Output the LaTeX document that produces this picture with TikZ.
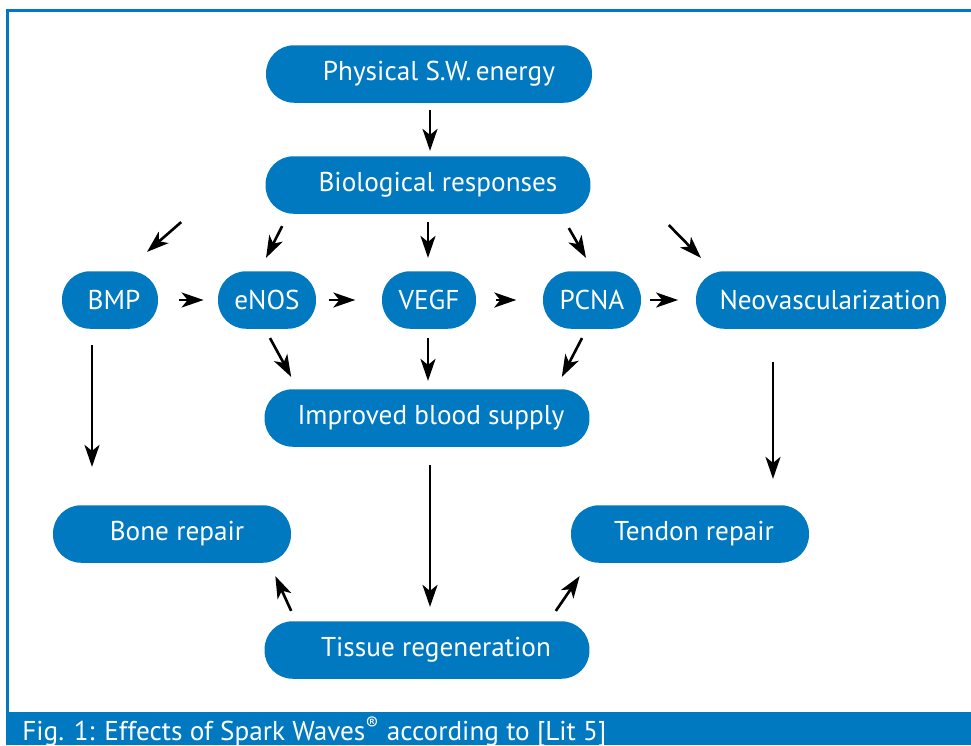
\documentclass[tikz,border=0pt]{standalone}
\usepackage{fontspec}
\setmainfont{PT Sans}
\usetikzlibrary{arrows.meta}
\definecolor{swblue}{RGB}{0,121,193}
\tikzset{
  pill/.style={rectangle, rounded corners=0.56cm, fill=swblue, text=white,
    minimum height=1.15cm, inner sep=0pt, font=\fontsize{15.5}{18}\selectfont},
  pad/.style={execute at begin node={\hspace*{#1}}},
  arr/.style={-{Stealth[length=0.44cm,width=0.3cm,inset=0.12cm]}, line width=1.5pt}
}
\begin{document}
\begin{tikzpicture}[x=0.02cm,y=-0.02cm]
\useasboundingbox (0,0) rectangle (971,745);
% frame and caption bar
\draw[swblue, line width=0.06cm] (7.5,745) -- (7.5,10.5) -- (971,10.5);
\fill[swblue] (6,712) rectangle (971,745);
\node[anchor=base west, text=white, inner sep=0pt, font=\fontsize{15.5}{18}\selectfont] (caption) at (22,740)
  {Fig. 1: Effects of Spark Waves\textsuperscript{®} according to [Lit 5]};

% boxes
\node[pill, pad=0.4cm, minimum width=6.52cm] (phys) at (429,74) {Physical S.W.\,energy};
\node[pill, pad=0.4cm, minimum width=6.5cm] (bio) at (428,185) {Biological responses};
\node[pill, pad=0.16cm, minimum width=1.92cm] (bmp) at (110,300) {BMP};
\node[pill, minimum width=1.96cm] (enos) at (267,300) {eNOS};
\node[pill, minimum width=1.88cm] (vegf) at (429,300) {VEGF};
\node[pill, minimum width=1.96cm] (pcna) at (592,300) {PCNA};
\node[pill, pad=0.36cm, minimum width=5.0cm] (neo) at (821,300) {Neovascularization};
\node[pill, pad=0.16cm, minimum width=6.5cm] (imp) at (427,418) {Improved blood supply};
\node[pill, pad=0.2cm, minimum width=4.76cm] (bone) at (172,534) {Bone repair};
\node[pill, pad=0.16cm, minimum width=4.76cm] (tendon) at (690,534) {Tendon repair};
\node[pill, pad=0.36cm, minimum width=6.5cm] (tis) at (427,650) {Tissue regeneration};

% arrows
\draw[arr] ([shift={(1,7)}]phys.south) -- ([shift={(2,-5)}]bio.north);
\draw[arr] ([shift={(-84,8)}]bio.south west) -- ([shift={(37,-19)}]bmp.north);
\draw[arr] ([shift={(17,12)}]bio.south west) -- ([shift={(-1,-13)}]enos.north);
\draw[arr] ([shift={(0,8)}]bio.south) -- ([shift={(-1,-13)}]vegf.north);
\draw[arr] ([shift={(-22,14)}]bio.south east) -- ([shift={(-6,-13)}]pcna.north);
\draw[arr] ([shift={(78,11)}]bio.south east) -- ([shift={(-120,-13)}]neo.north);

\draw[arr] ([xshift=12]bmp.east) -- ([xshift=-8]enos.west);
\draw[arr] ([xshift=7]enos.east) -- ([xshift=-15]vegf.west);
\draw[arr] ([xshift=11]vegf.east) -- ([xshift=-15]pcna.west);
\draw[arr] ([xshift=5]pcna.east) -- ([xshift=-10]neo.west);

\draw[arr] ([shift={(3,9)}]enos.south) -- ([shift={(27,-12)}]imp.north west);
\draw[arr] ([shift={(-1,9)}]vegf.south) -- ([shift={(1,-8)}]imp.north);
\draw[arr] ([shift={(-10,9)}]pcna.south) -- ([shift={(-28,-12)}]imp.north east);

\draw[arr] ([shift={(-18,16)}]bmp.south) -- ([shift={(-80,-38)}]bone.north);
\draw[arr] ([shift={(-48,33)}]neo.south) -- ([shift={(83,-26)}]tendon.north);
\draw[arr] ([shift={(3,18)}]imp.south) -- ([shift={(3,-14)}]tis.north);

\draw[arr] ([shift={(27,-10)}]tis.north west) -- ([shift={(-16,13)}]bone.south east);
\draw[arr] ([shift={(-34,-10)}]tis.north east) -- ([shift={(9,13)}]tendon.south west);
\end{tikzpicture}
\end{document}
